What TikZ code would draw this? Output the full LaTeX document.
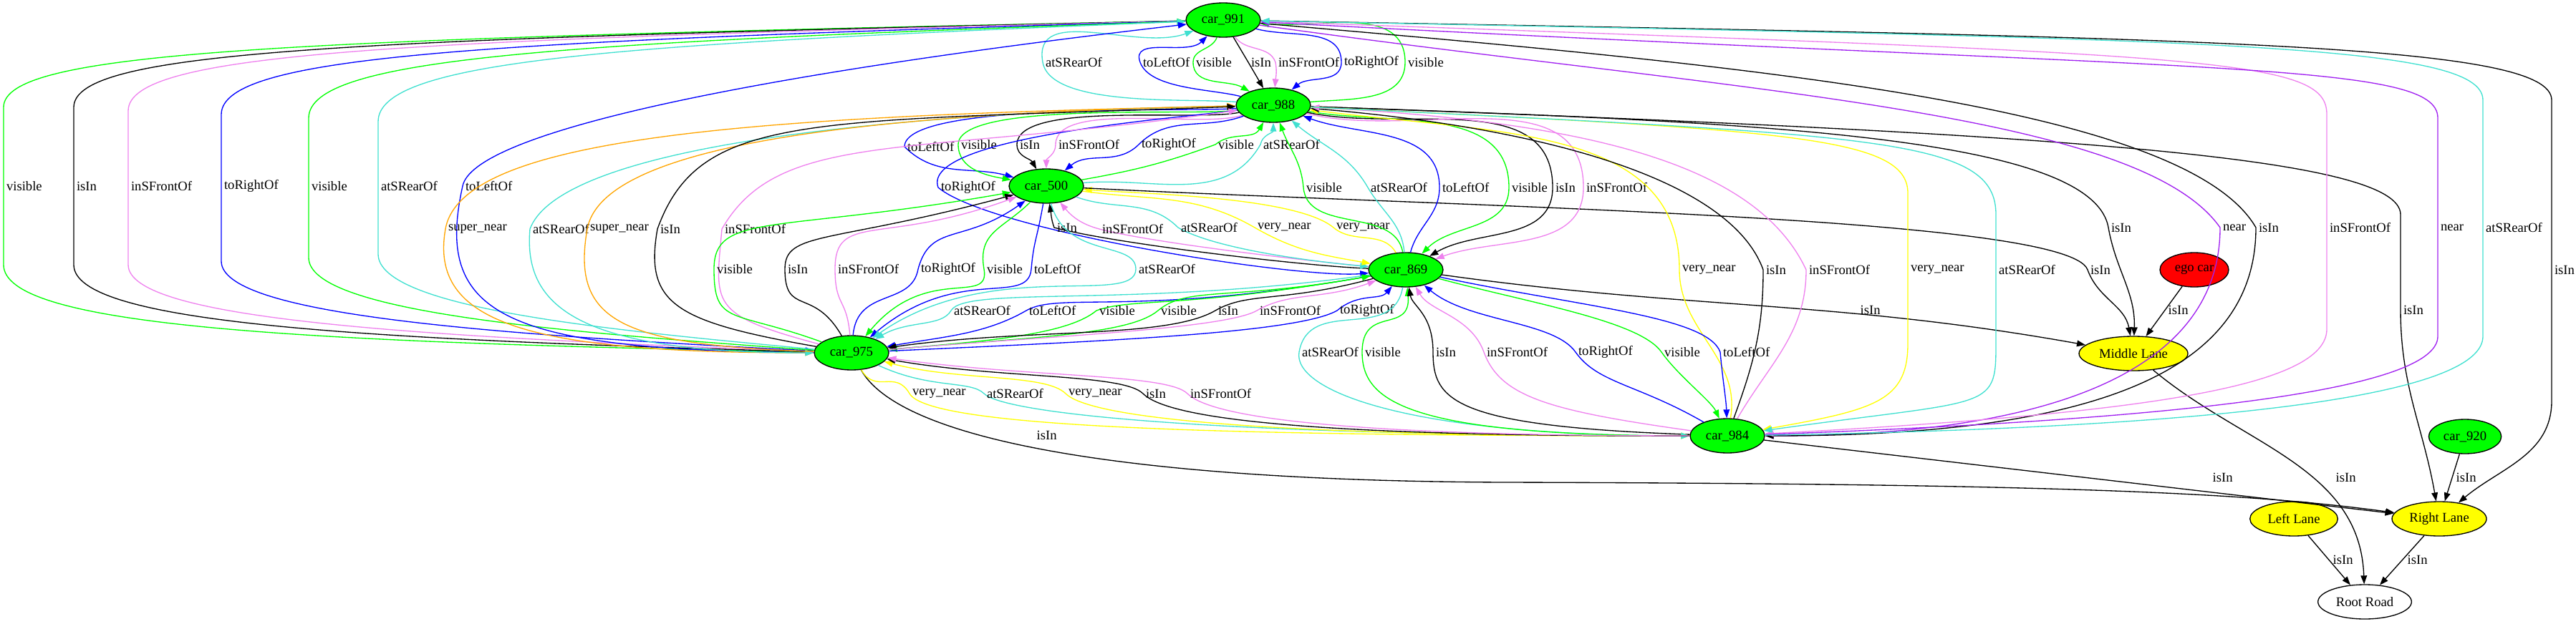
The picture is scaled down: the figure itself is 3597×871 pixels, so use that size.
\documentclass[tikz,border=0pt]{standalone}
\usepackage{fontspec}
\setmainfont{Liberation Serif}
\usetikzlibrary{shapes.geometric,arrows.meta}
\definecolor{gvgreen}{rgb}{0,1,0}
\definecolor{gvblue}{rgb}{0,0,1}
\definecolor{gvturq}{RGB}{64,224,208}
\definecolor{gvviolet}{RGB}{238,130,238}
\definecolor{gvpurple}{RGB}{160,32,240}
\definecolor{gvorange}{RGB}{255,165,0}
\definecolor{gvyellow}{RGB}{255,255,0}
\definecolor{gvred}{RGB}{255,0,0}
\tikzset{
  car/.style={ellipse, draw, line width=1pt, fill=gvgreen, minimum width=78pt, minimum height=36pt, inner sep=0pt},
  lane/.style={ellipse, draw, line width=1pt, fill=gvyellow, minimum height=36pt, inner sep=0pt},
  rel/.style={-{Triangle[length=9pt,width=6.5pt]}, line width=1pt},
  lbl/.style={anchor=west, inner sep=1pt, xshift=1.5pt, text=black}
}
\begin{document}
\begin{tikzpicture}[x=0.75pt, y=0.75pt, font=\fontsize{14}{16}\selectfont]
\useasboundingbox (0,0) rectangle (3597,-871);
            %
            \node[car] (n991) at (1708,-28) {car\_991};
            \node[car] (n988) at (1778,-147) {car\_988};
            \node[car] (n500) at (1461,-260) {car\_500};
            \node[car] (n869) at (1963,-377) {car\_869};
            \node[car] (n975) at (1189,-493) {car\_975};
            \node[car] (n984) at (2412,-609) {car\_984};
            \node[car, fill=gvred, minimum width=72pt] (nego) at (3064,-377) {ego car};
            \node[car, minimum width=76pt] (n920) at (3442,-610) {car\_920};

            % lanes
            \node[lane, minimum width=114pt] (nmid) at (2979,-494) {Middle Lane};
            \node[lane, minimum width=99pt] (nright) at (3406,-725) {Right Lane};
            \node[lane, minimum width=92pt] (nleft) at (3203,-725) {Left Lane};
            \node[lane, fill=white, minimum width=98pt] (nroot) at (3302,-841) {Root Road};

            % car_991 - car_988
            \draw[rel,gvturq] (n988) to[out=175,in=-80,looseness=.6] (1456,-87) node[lbl] (a1) {atSRearOf} to[out=100,in=200] (n991);
            \draw[rel,gvblue] (n988) to[out=165,in=-70,looseness=.7] (1592,-87) node[lbl] (a2) {toLeftOf} to[out=110,in=225] (n991);
            \draw[rel,gvgreen] (n991) to[out=-110,in=90] (1666,-87) node[lbl] (a3) {visible} to[out=-90,in=150] (n988);
            \draw[rel] (n991) -- (1743,-87) node[lbl] (a4) {isIn} -- (n988);
            \draw[rel,gvviolet] (n991) to[out=-55,in=110] (1781,-87) node[lbl] (a5) {inSFrontOf} to[out=-80,in=85] (n988);
            \draw[rel,gvblue] (n991) to[out=-15,in=90] (1873,-87) node[lbl] (a6) {toRightOf} to[out=-90,in=40] (n988);
            \draw[rel,gvgreen] (n988) to[out=5,in=-90] (1962,-87) node[lbl] (a7) {visible} to[out=90,in=-5] (n991);

            % car_991 - car_975, round the left
            \draw[rel,gvgreen] (n991) .. controls (400,-55) and (5,-70) .. (5,-150) -- (5,-260) node[lbl] (b1) {visible} -- (5,-370) .. controls (5,-455) and (400,-478) .. (n975);
            \draw[rel] (n991) .. controls (480,-55) and (103,-70) .. (103,-150) -- (103,-260) node[lbl] (b2) {isIn} -- (103,-370) .. controls (103,-450) and (480,-474) .. (n975);
            \draw[rel,gvviolet] (n991) .. controls (560,-56) and (179,-72) .. (179,-155) -- (179,-260) node[lbl] (b3) {inSFrontOf} -- (179,-370) .. controls (179,-445) and (560,-470) .. (n975);
            \draw[rel,gvblue] (n991) .. controls (680,-58) and (309,-76) .. (309,-160) -- (309,-260) node[lbl] (b4) {toRightOf} -- (309,-365) .. controls (309,-440) and (680,-467) .. (n975);
            \draw[rel,gvgreen] (n975) .. controls (780,-464) and (431,-436) .. (431,-360) -- (431,-260) node[lbl] (b5) {visible} -- (431,-165) .. controls (431,-80) and (780,-60) .. (n991);
            \draw[rel,gvturq] (n975) .. controls (860,-462) and (528,-432) .. (528,-355) -- (528,-260) node[lbl] (b6) {atSRearOf} -- (528,-170) .. controls (528,-84) and (860,-62) .. (n991);
            \draw[rel,gvblue] (n975) .. controls (700,-490) and (606,-440) .. (646,-260) node[lbl] (b7) {toLeftOf} .. controls (660,-190) and (1000,-110) .. (n991);

            % car_988 - car_500
            \draw[rel,gvblue] (n988) to[out=185,in=90,looseness=.35] (1263,-205) node[lbl] (c1) {toLeftOf} to[out=-45,in=165] (n500);
            \draw[rel,gvgreen] (n988) to[out=188,in=90,looseness=.4] (1338,-202) node[lbl] (c2) {visible} to[out=-90,in=170] (n500);
            \draw[rel] (n988) to[out=192,in=90,looseness=.5] (1420,-202) node[lbl] (c3) {isIn} to[out=-90,in=120] (n500);
            \draw[rel,gvviolet] (n988) to[out=198,in=90,looseness=.6] (1474,-202) node[lbl] (c4) {inSFrontOf} to[out=-90,in=90] (n500);
            \draw[rel,gvblue] (n988) to[out=200,in=45] (1590,-202) node[lbl] (c5) {toRightOf} to[out=225,in=40] (n500);
            \draw[rel,gvgreen] (n500) to[out=10,in=200] (1697,-202) node[lbl] (c6) {visible} to[out=40,in=-120] (n988);
            \draw[rel,gvturq] (n500) to[out=5,in=-120] (1760,-202) node[lbl] (c7) {atSRearOf} to[out=80,in=-90] (n988);
            \draw[rel,gvblue] (n988) to[out=188,in=110,looseness=.45] (1310,-262) node[lbl] (c8) {toRightOf} to[out=-40,in=185,looseness=.4] (n869);

            % car_500 - car_869
            \draw[rel] (n869) to[out=178,in=-15,looseness=.5] (1472,-318) node[lbl] (d1) {isIn} to[out=110,in=-80] (n500);
            \draw[rel,gvviolet] (n869) to[out=175,in=-15,looseness=.5] (1535,-320) node[lbl] (d2) {inSFrontOf} to[out=165,in=-50] (n500);
            \draw[rel,gvturq] (n500) to[out=-20,in=135] (1645,-318) node[lbl] (d3) {atSRearOf} to[out=-30,in=175,looseness=.6] (n869);
            \draw[rel,gvyellow] (n500) to[out=-8,in=150] (1752,-318) node[lbl] (d4) {very\_near} to[out=-30,in=170] (n869);
            \draw[rel,gvyellow] (n869) to[out=120,in=-40] (1862,-318) node[lbl] (d5) {very\_near} to[out=140,in=-5,looseness=.5] (n500);

            % isIn, to the lanes
            \draw[rel] (n500) .. controls (2046,-290) and (2888,-302) .. (2915,-377) node[lbl] (e1) {isIn} to[out=-70,in=100] (nmid);
            \draw[rel] (n988) .. controls (2430,-170) and (2921,-187) .. (2944,-318) node[lbl] (e2) {isIn} to[out=-80,in=88] (nmid);
            \draw[rel] (n988) .. controls (2897,-187) and (3352,-220) .. (3352,-300) -- (3352,-433) node[lbl] (e3) {isIn} to[out=-90,in=100] (nright);
            \draw[rel] (n991) .. controls (3093,-53) and (3563,-60) .. (3563,-140) -- (3563,-377) node[lbl] (e4) {isIn} -- (3563,-560) to[out=-90,in=40] (nright);
            \draw[rel] (n869) .. controls (2365,-433) and (2560,-419) .. (nmid);
            \node[lbl] (e5) at (2594,-433) {isIn};
            \draw[rel] (nego) -- (nmid);
            \node[lbl] (e6) at (3024,-433) {isIn};
            \draw[rel] (n975) .. controls (1260,-620) and (1600,-672) .. (2100,-674) .. controls (2900,-676) and (3150,-690) .. (nright);
            \node[lbl] (e7) at (1444,-608) {isIn};
            \draw[rel] (n984) -- (nright);
            \node[lbl] (e8) at (3086,-667) {isIn};
            \draw[rel] (nmid) to[out=-40,in=92] (nroot);
            \node[lbl] (e9) at (3258,-667) {isIn};
            \draw[rel] (nleft) -- (nroot);
            \node[lbl] (e10) at (3254,-782) {isIn};
            \draw[rel] (nright) -- (nroot);
            \node[lbl] (e11) at (3358,-782) {isIn};
            \draw[rel] (n920) -- (nright);
            \node[lbl] (e12) at (3426,-667) {isIn};

            % car_991 - car_984, round the right
            \draw[rel,gvpurple] (n991) .. controls (2420,-128) and (2985,-154) .. (3100,-318) node[lbl] (f1) {near} .. controls (3100,-518) and (2864,-609) .. (n984);
            \draw[rel] (n991) .. controls (2424,-90) and (3050,-145) .. (3150,-318) node[lbl] (f2) {isIn} .. controls (3150,-518) and (2930,-609) .. (n984);
            \draw[rel,gvviolet] (n991) .. controls (3093,-77) and (3249,-80) .. (3249,-160) -- (3249,-318) node[lbl] (f3) {inSFrontOf} -- (3249,-460) .. controls (3249,-540) and (2996,-578) .. (n984);
            \draw[rel,gvpurple] (n984) .. controls (2997,-588) and (3404,-550) .. (3404,-470) -- (3404,-318) node[lbl] (f4) {near} -- (3404,-165) .. controls (3404,-85) and (3091,-101) .. (n991);
            \draw[rel,gvturq] (n984) .. controls (3130,-597) and (3467,-550) .. (3467,-470) -- (3467,-318) node[lbl] (f5) {atSRearOf} -- (3467,-140) .. controls (3467,-60) and (3093,-55) .. (n991);

            % car_988 - car_869
            \draw[rel,gvgreen] (n869) to[out=100,in=-85] (1820,-262) node[lbl] (g1) {visible} to[out=95,in=-70] (n988);
            \draw[rel,gvturq] (n869) to[out=95,in=-60] (1910,-262) node[lbl] (g2) {atSRearOf} to[out=120,in=-40] (n988);
            \draw[rel,gvblue] (n869) to[out=75,in=-90] (2010,-262) node[lbl] (g3) {toLeftOf} to[out=90,in=-20] (n988);
            \draw[rel,gvgreen] (n988) to[out=-10,in=90] (2107,-262) node[lbl] (g4) {visible} to[out=-90,in=45] (n869);
            \draw[rel] (n988) to[out=-12,in=90] (2168,-262) node[lbl] (g5) {isIn} to[out=-90,in=30] (n869);
            \draw[rel,gvviolet] (n988) to[out=-14,in=90] (2211,-262) node[lbl] (g6) {inSFrontOf} to[out=-90,in=20] (n869);

            % car_988 - car_984
            \draw[rel,gvyellow] (n984) to[out=80,in=-90] (2345,-377) node[lbl] (h1) {very\_near} .. controls (2345,-177) and (2093,-187) .. (n988);
            \draw[rel] (n984) to[out=70,in=-90] (2462,-377) node[lbl] (h2) {isIn} .. controls (2417,-252) and (2161,-179) .. (n988);
            \draw[rel,gvviolet] (n984) to[out=60,in=-90] (2522,-377) node[lbl] (h3) {inSFrontOf} .. controls (2454,-232) and (2228,-171) .. (n988);
            \draw[rel,gvyellow] (n988) .. controls (2495,-182) and (2664,-190) .. (2664,-270) -- (2664,-377) node[lbl] (h4) {very\_near} -- (2664,-480) to[out=-90,in=10,out distance=60pt,in distance=120pt] (n984);
            \draw[rel,gvturq] (n988) .. controls (2628,-189) and (2787,-193) .. (2787,-300) -- (2787,-377) node[lbl] (h5) {atSRearOf} -- (2787,-470) to[out=-90,in=8,out distance=80pt,in distance=250pt] (n984);

            % car_988 - car_975
            \draw[rel,gvorange] (n988) .. controls (1059,-162) and (645,-189) .. (622,-320) node[lbl] (i1) {super\_near} to[out=-100,in=180,out distance=100pt,in distance=300pt] (n975);
            \draw[rel,gvturq] (n988) .. controls (1126,-160) and (777,-220) .. (740,-320) node[lbl] (i2) {atSRearOf} to[out=-95,in=180,out distance=80pt,in distance=250pt] (n975);
            \draw[rel,gvorange] (n975) to[out=178,in=-100,out distance=200pt,in distance=100pt] (820,-320) node[lbl] (i3) {super\_near} .. controls (839,-215) and (1126,-160) .. (n988);
            \draw[rel] (n975) to[out=170,in=-100,out distance=150pt,in distance=80pt] (918,-320) node[lbl] (i4) {isIn} .. controls (977,-157) and (1126,-171) .. (n988);
            \draw[rel,gvviolet] (n975) to[out=165,in=-95,out distance=120pt,in distance=80pt] (1008,-320) node[lbl] (i5) {inSFrontOf} .. controls (1088,-181) and (1264,-220) .. (n988);

            % car_500 - car_975
            \draw[rel,gvgreen] (n975) to[out=160,in=-90,out distance=100pt,in distance=60pt] (997,-376) node[lbl] (j1) {visible} to[out=90,in=190,out distance=60pt,in distance=250pt] (n500);
            \draw[rel] (n975) to[out=120,in=-90,out distance=60pt,in distance=50pt] (1096,-376) node[lbl] (j2) {isIn} to[out=90,in=195,out distance=40pt,in distance=200pt] (n500);
            \draw[rel,gvviolet] (n975) to[out=95,in=-90,out distance=40pt,in distance=40pt] (1166,-376) node[lbl] (j3) {inSFrontOf} to[out=90,in=200,out distance=60pt,in distance=150pt] (n500);
            \draw[rel,gvblue] (n975) to[out=85,in=-100,out distance=50pt,in distance=40pt] (1282,-376) node[lbl] (j4) {toRightOf} to[out=75,in=215,out distance=50pt,in distance=80pt] (n500);
            \draw[rel,gvgreen] (n500) to[out=225,in=100,out distance=40pt,in distance=40pt] (1374,-376) node[lbl] (j5) {visible} to[out=-80,in=50,out distance=40pt,in distance=100pt] (n975);
            \draw[rel,gvblue] (n500) to[out=-100,in=85,out distance=40pt,in distance=30pt] (1440,-376) node[lbl] (j6) {toLeftOf} to[out=-95,in=40,out distance=40pt,in distance=120pt] (n975);
            \draw[rel,gvturq] (n500) to[out=-75,in=90,out distance=60pt,in distance=30pt] (1586,-376) node[lbl] (j7) {atSRearOf} to[out=-90,in=35,out distance=40pt,in distance=150pt] (n975);

            % car_869 - car_975
            \draw[rel,gvturq] (n869) to[out=188,in=60,out distance=250pt,in distance=30pt] (1328,-434) node[lbl] (k1) {atSRearOf} to[out=-120,in=30,out distance=20pt,in distance=40pt] (n975);
            \draw[rel,gvblue] (n869) to[out=190,in=30,out distance=250pt,in distance=40pt] (1433,-434) node[lbl] (k2) {toLeftOf} to[out=-150,in=10,out distance=50pt,in distance=60pt] (n975);
            \draw[rel,gvgreen] (n869) to[out=190,in=20,out distance=200pt,in distance=40pt] (1531,-434) node[lbl] (k3) {visible} to[out=-140,in=5,out distance=40pt,in distance=100pt] (n975);
            \draw[rel,gvgreen] (n975) to[out=5,in=-140,out distance=150pt,in distance=40pt] (1617,-434) node[lbl] (k4) {visible} to[out=40,in=190,out distance=40pt,in distance=150pt] (n869);
            \draw[rel] (n869) to[out=195,in=30,out distance=100pt,in distance=40pt] (1697,-434) node[lbl] (k5) {isIn} to[out=-150,in=8,out distance=60pt,in distance=150pt] (n975);
            \draw[rel,gvviolet] (n975) to[out=5,in=-150,out distance=150pt,in distance=40pt] (1755,-434) node[lbl] (k6) {inSFrontOf} to[out=30,in=200,out distance=40pt,in distance=60pt] (n869);
            \draw[rel,gvblue] (n975) .. controls (1507,-478) and (1809,-467) .. (1867,-434) node[lbl] (k7) {toRightOf} to[out=40,in=-130,out distance=30pt,in distance=20pt] (n869);

            % car_869 - car_984
            \draw[rel,gvturq] (n869) to[out=-100,in=80,out distance=60pt,in distance=60pt] (1814,-492) node[lbl] (l1) {atSRearOf} to[out=-100,in=180,out distance=40pt,in distance=300pt] (n984);
            \draw[rel,gvgreen] (n984) to[out=180,in=-90,out distance=300pt,in distance=50pt] (1902,-492) node[lbl] (l2) {visible} to[out=90,in=-85,out distance=50pt,in distance=50pt] (n869);
            \draw[rel] (n984) to[out=178,in=-90,out distance=250pt,in distance=50pt] (2001,-492) node[lbl] (l3) {isIn} to[out=90,in=-80,out distance=40pt,in distance=20pt] (n869);
            \draw[rel,gvviolet] (n984) to[out=172,in=-70,out distance=150pt,in distance=50pt] (2072,-492) node[lbl] (l4) {inSFrontOf} to[out=110,in=-60,out distance=40pt,in distance=30pt] (n869);
            \draw[rel,gvblue] (n984) to[out=150,in=-55,out distance=80pt,in distance=40pt] (2200,-492) node[lbl] (l5) {toRightOf} to[out=125,in=-40,out distance=40pt,in distance=60pt] (n869);
            \draw[rel,gvgreen] (n869) to[out=-15,in=125,out distance=100pt,in distance=40pt] (2320,-492) node[lbl] (l6) {visible} to[out=-55,in=115,out distance=30pt,in distance=20pt] (n984);
            \draw[rel,gvblue] (n869) to[out=-12,in=110,out distance=150pt,in distance=40pt] (2402,-492) node[lbl] (l7) {toLeftOf} to[out=-85,in=92,out distance=30pt,in distance=20pt] (n984);

            % car_975 - car_984
            \draw[rel,gvyellow] (n975) to[out=-60,in=120,out distance=30pt,in distance=30pt] (1270,-550) node[lbl] (m1) {very\_near} .. controls (1297,-597) and (1693,-609) .. (n984);
            \draw[rel,gvturq] (n975) to[out=-25,in=135,out distance=60pt,in distance=20pt] (1374,-550) node[lbl] (m2) {atSRearOf} .. controls (1402,-578) and (1693,-609) .. (n984);
            \draw[rel,gvyellow] (n984) .. controls (1693,-610) and (1516,-578) .. (1488,-550) node[lbl] (m3) {very\_near} to[out=135,in=-15,out distance=30pt,in distance=80pt] (n975);
            \draw[rel] (n984) .. controls (1760,-610) and (1624,-578) .. (1596,-550) node[lbl] (m4) {isIn} to[out=135,in=-10,out distance=30pt,in distance=120pt] (n975);
            \draw[rel,gvviolet] (n984) .. controls (1827,-609) and (1686,-578) .. (1658,-550) node[lbl] (m5) {inSFrontOf} to[out=135,in=-8,out distance=30pt,in distance=150pt] (n975);

\end{tikzpicture}
\end{document}
